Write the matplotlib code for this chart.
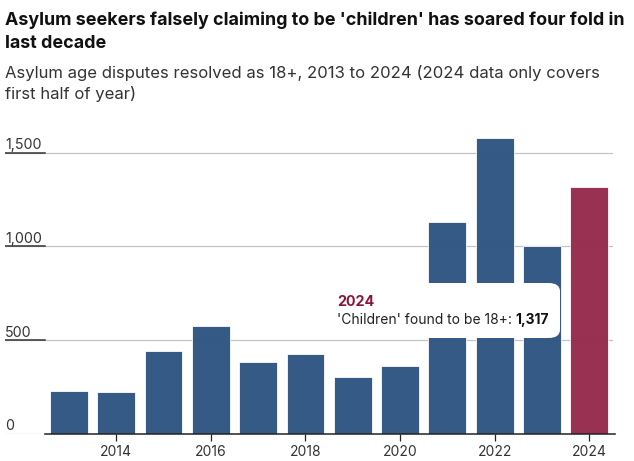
import matplotlib.pyplot as plt
from matplotlib.patches import FancyBboxPatch

# data
years = [2013, 2014, 2015, 2016, 2017, 2018, 2019, 2020, 2021, 2022, 2023, 2024]
disputes_18plus = [228, 222, 443, 575, 384, 428, 304, 363, 1128, 1580, 1003, 1317]
x_ticks = [2014, 2016, 2018, 2020, 2022, 2024]
y_ticks = [0, 500, 1000, 1500]
y_tick_labels = ['0', '500', '1,000', '1,500']

blue = '#2f5582'
red = '#962a4c'
bar_colors = [red if y == 2024 else blue for y in years]

plt.rcParams['font.family'] = ['Inter', 'DejaVu Sans']

W, H = 634, 461
fig = plt.figure(figsize=(W / 100, H / 100), dpi=100)
# axes box in pixels: left 5, right 613, zero line at y=434
ax = fig.add_axes([5 / W, 1 - 434 / H, 608 / W, 304 / H])
x_left, x_right = 2011.65, 2024.5
ax.set_xlim(x_left, x_right)
ax.set_ylim(0, 1620)
for s in ax.spines.values():
    s.set_visible(False)

# gridlines + short dark segment under each label
x_axis_start = 2012.49
for v in y_ticks[1:]:
    ax.plot([x_left, x_right], [v, v], color='#c4c4c4', lw=0.9, zorder=1)
    ax.plot([x_left, x_axis_start], [v, v], color='#333333', lw=1.1, zorder=2)
ax.plot([x_left, x_axis_start], [0, 0], color='#c4c4c4', lw=0.9, zorder=1)
ax.plot([x_axis_start, x_right + 0.05], [0, 0], color='#222222', lw=1.1, zorder=4,
        clip_on=False)

ax.bar(years, disputes_18plus, width=0.8, color=bar_colors, alpha=0.97,
       edgecolor='#ffffff', linewidth=0.6, zorder=3)

for v, lab in zip(y_ticks, y_tick_labels):
    ax.text(x_left, v + 19, lab, ha='left', va='baseline', fontsize=10.3,
            color='#333333', zorder=5)

ax.set_yticks([])
ax.set_xticks(x_ticks)
ax.set_xticklabels([str(t) for t in x_ticks])
ax.tick_params(axis='x', length=5, width=0.9, color='#222222', labelsize=10,
               labelcolor='#333333', pad=3)

# titles (two separate lines to pin their positions)
fig.text(5 / W, 1 - 25 / H, "Asylum seekers falsely claiming to be 'children' has soared four fold in",
         ha='left', va='baseline', fontsize=12.9, fontweight='bold', color='#111111')
fig.text(5 / W, 1 - 48 / H, "last decade",
         ha='left', va='baseline', fontsize=12.9, fontweight='bold', color='#111111')
fig.text(5 / W, 1 - 65 / H, "Asylum age disputes resolved as 18+, 2013 to 2024 (2024 data only covers\nfirst half of year)",
         ha='left', va='top', fontsize=12.0, color='#333333', linespacing=1.38)

# tooltip
box = FancyBboxPatch((322 / W, 1 - 338 / H), 238 / W, 55 / H,
                     boxstyle='round,pad=0,rounding_size=0.018',
                     transform=fig.transFigure, facecolor='white',
                     edgecolor='none', zorder=10)
fig.patches.append(box)
fig.text(337 / W, 1 - 306 / H, '2024', ha='left', va='baseline', fontsize=10.3,
         fontweight='bold', color='#8a1538', zorder=11)
t1 = fig.text(337 / W, 1 - 324 / H, "'Children' found to be 18+: ", ha='left',
              va='baseline', fontsize=10, color='#222222', zorder=11)
fig.canvas.draw()
bb = t1.get_window_extent(renderer=fig.canvas.get_renderer())
fig.text(bb.x1 / W, 1 - 324 / H, f'{disputes_18plus[-1]:,}',
         ha='left', va='baseline', fontsize=10, fontweight='bold',
         color='#111111', zorder=11)

fig.savefig('out.png', dpi=100)
